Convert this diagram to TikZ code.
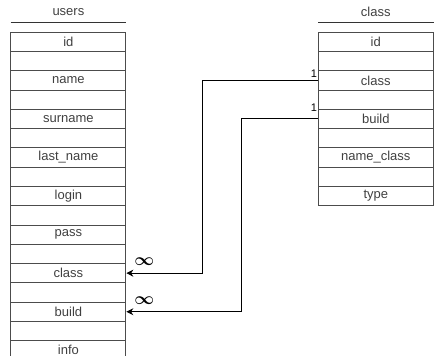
\documentclass[tikz,border=0pt]{standalone}
\usepackage{fontspec}
\setmainfont{Liberation Sans}
\usetikzlibrary{positioning,arrows.meta}

\begin{document}
\begin{tikzpicture}[
    x=1pt,
    y=-1pt,
    font=\fontsize{13}{15}\selectfont,
    row/.style={
        draw=black!70,
        line width=0.9pt,
        minimum width=115pt,
        minimum height=19.3pt,
        inner sep=0pt,
        text=black!75
    },
    head/.style={minimum width=115pt, minimum height=20pt, inner sep=0pt, text=black!75},
    rule/.style={draw=black!80, line width=0.9pt},
    link/.style={-{Stealth[length=7pt,width=7pt]}, line width=0.9pt},
    mult/.style={inner sep=0pt, font=\fontsize{11}{12}\selectfont},
    many/.style={inner sep=0pt, font=\fontsize{18}{18}\selectfont\boldmath}
]
\useasboundingbox (0,0) rectangle (434,356);

% ============================================================
% TABELA USERS
% ============================================================
\foreach \txt [count=\i] in {id,{},name,{},surname,{},last\_name,{},login,{},pass,{},class,{},build,{},info}
    \node[row] (u\i) at (68.4,{41.8+(\i-1)*19.28}) {\txt};
\node[head, above=9.6pt of u1] (uhead) {users};
\draw[rule] (uhead.south west) -- (uhead.south east);

% ============================================================
% TABELA CLASS
% ============================================================
\foreach \txt [count=\i] in {id,{},class,{},build,{},name\_class,{},type}
    \node[row] (c\i) at (375.8,{41.8+(\i-1)*19.28}) {\txt};
\node[head, above=9.6pt of c1] (chead) {class};
\draw[rule] (chead.south west) -- (chead.south east);

% ============================================================
% POWIAZANIA
% ============================================================
\draw[link] (c3.west) -- ++(-115,0) |- (u13.east);
\draw[link] (c5.west) -- ++(-76.6,0) |- (u15.east);

\node[mult, anchor=south east] (one3) at ([xshift=-0.6pt,yshift=2.3pt]c3.west) {1};
\node[mult, anchor=south east] (one5) at ([xshift=-0.6pt,yshift=7.3pt]c5.west) {1};
\node[many] (inf13) at ([xshift=18pt,yshift=11.7pt]u13.east) {$\infty$};
\node[many] (inf15) at ([xshift=18pt,yshift=11pt]u15.east) {$\infty$};

\end{tikzpicture}
\end{document}
